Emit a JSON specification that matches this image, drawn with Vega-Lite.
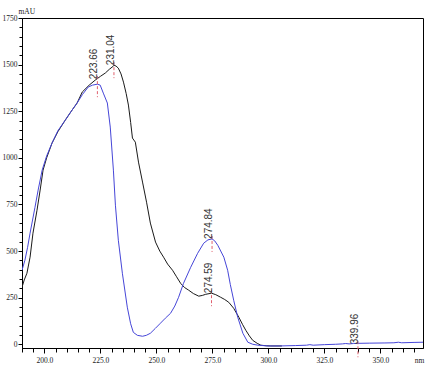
{
  "$schema": "https://vega.github.io/schema/vega-lite/v6.json",
  "width": 401,
  "height": 330,
  "autosize": {"type": "none"},
  "padding": {"left": 22, "top": 18, "right": 5, "bottom": 28},
  "background": "white",
  "config": {"view": {"stroke": "black", "strokeWidth": 1}},
  "datasets": {
    "black": [
      {"wl": 190.0, "v": 306}, {"wl": 191.0, "v": 345}, {"wl": 192.2, "v": 381}, {"wl": 193.6, "v": 467},
      {"wl": 194.9, "v": 596}, {"wl": 196.7, "v": 719}, {"wl": 198.1, "v": 827}, {"wl": 199.4, "v": 934},
      {"wl": 201.0, "v": 1000}, {"wl": 203.4, "v": 1079}, {"wl": 206.0, "v": 1140}, {"wl": 209.3, "v": 1202},
      {"wl": 212.0, "v": 1250}, {"wl": 214.6, "v": 1294}, {"wl": 216.9, "v": 1353}, {"wl": 220.0, "v": 1390},
      {"wl": 222.7, "v": 1417}, {"wl": 225.0, "v": 1437}, {"wl": 227.2, "v": 1455}, {"wl": 229.0, "v": 1475},
      {"wl": 230.8, "v": 1492}, {"wl": 231.04, "v": 1497}, {"wl": 232.0, "v": 1492}, {"wl": 233.0, "v": 1481},
      {"wl": 234.2, "v": 1450}, {"wl": 235.3, "v": 1406}, {"wl": 236.5, "v": 1345}, {"wl": 237.5, "v": 1283},
      {"wl": 238.5, "v": 1190}, {"wl": 239.3, "v": 1106}, {"wl": 240.6, "v": 1084}, {"wl": 242.0, "v": 977},
      {"wl": 243.8, "v": 870}, {"wl": 245.6, "v": 762}, {"wl": 247.3, "v": 650}, {"wl": 249.6, "v": 548},
      {"wl": 251.5, "v": 500}, {"wl": 253.2, "v": 467}, {"wl": 255.0, "v": 430}, {"wl": 257.2, "v": 397},
      {"wl": 259.0, "v": 362}, {"wl": 260.8, "v": 327}, {"wl": 262.5, "v": 305}, {"wl": 264.4, "v": 290},
      {"wl": 266.5, "v": 272}, {"wl": 268.9, "v": 258}, {"wl": 270.5, "v": 262}, {"wl": 272.0, "v": 268},
      {"wl": 274.59, "v": 274}, {"wl": 276.5, "v": 266}, {"wl": 278.7, "v": 252}, {"wl": 280.5, "v": 240},
      {"wl": 282.3, "v": 225}, {"wl": 284.5, "v": 193}, {"wl": 286.8, "v": 145}, {"wl": 288.5, "v": 105},
      {"wl": 289.9, "v": 75}, {"wl": 291.5, "v": 45}, {"wl": 293.0, "v": 21}, {"wl": 295.0, "v": 5},
      {"wl": 296.6, "v": -5}, {"wl": 299.0, "v": -8}, {"wl": 301.1, "v": -9}, {"wl": 306.0, "v": -9}
    ],
    "blue": [
      {"wl": 190.0, "v": 397}, {"wl": 191.3, "v": 451}, {"wl": 192.5, "v": 520}, {"wl": 193.6, "v": 596},
      {"wl": 195.8, "v": 735}, {"wl": 197.2, "v": 827}, {"wl": 199.0, "v": 934}, {"wl": 201.0, "v": 1010},
      {"wl": 203.4, "v": 1079}, {"wl": 206.0, "v": 1145}, {"wl": 209.3, "v": 1202}, {"wl": 212.0, "v": 1250},
      {"wl": 214.6, "v": 1294}, {"wl": 217.0, "v": 1340}, {"wl": 219.6, "v": 1380}, {"wl": 221.5, "v": 1390},
      {"wl": 223.66, "v": 1395}, {"wl": 224.9, "v": 1390}, {"wl": 226.3, "v": 1347}, {"wl": 228.1, "v": 1294},
      {"wl": 229.4, "v": 1165}, {"wl": 230.8, "v": 934}, {"wl": 231.7, "v": 746}, {"wl": 233.0, "v": 558},
      {"wl": 234.8, "v": 381}, {"wl": 237.0, "v": 199}, {"wl": 238.5, "v": 110}, {"wl": 239.7, "v": 64},
      {"wl": 241.5, "v": 48}, {"wl": 243.8, "v": 43}, {"wl": 245.5, "v": 48}, {"wl": 247.3, "v": 59},
      {"wl": 249.5, "v": 85}, {"wl": 251.8, "v": 113}, {"wl": 254.0, "v": 140}, {"wl": 256.3, "v": 166},
      {"wl": 258.2, "v": 205}, {"wl": 259.9, "v": 252}, {"wl": 262.1, "v": 327}, {"wl": 265.3, "v": 413},
      {"wl": 268.4, "v": 488}, {"wl": 271.1, "v": 542}, {"wl": 273.0, "v": 560}, {"wl": 274.84, "v": 565},
      {"wl": 276.0, "v": 555}, {"wl": 277.4, "v": 531}, {"wl": 280.1, "v": 467}, {"wl": 281.8, "v": 397},
      {"wl": 283.0, "v": 320}, {"wl": 284.5, "v": 236}, {"wl": 286.3, "v": 145}, {"wl": 288.6, "v": 59},
      {"wl": 290.8, "v": 11}, {"wl": 293.0, "v": 0}, {"wl": 295.3, "v": -5}, {"wl": 299.8, "v": -9},
      {"wl": 305.0, "v": -9}, {"wl": 312.0, "v": -7}, {"wl": 317.0, "v": -5}, {"wl": 318.5, "v": -2},
      {"wl": 320.0, "v": -5}, {"wl": 325.0, "v": -2}, {"wl": 330.0, "v": 0}, {"wl": 333.0, "v": 2},
      {"wl": 334.5, "v": 4}, {"wl": 336.0, "v": 2}, {"wl": 338.0, "v": 4}, {"wl": 340.0, "v": 5},
      {"wl": 345.0, "v": 6}, {"wl": 352.0, "v": 7}, {"wl": 356.0, "v": 8}, {"wl": 358.0, "v": 11},
      {"wl": 359.5, "v": 8}, {"wl": 365.0, "v": 10}, {"wl": 369.0, "v": 11}
    ],
    "peaks": [
      {"wl": 223.66, "v": 1422, "v2": 1395, "text": "223.66"},
      {"wl": 231.04, "v": 1497, "v2": 1497, "text": "231.04"},
      {"wl": 274.84, "v": 565, "v2": 565, "text": "274.84"},
      {"wl": 274.59, "v": 274, "v2": 274, "text": "274.59"},
      {"wl": 339.96, "v": 0, "v2": 0, "text": "339.96"}
    ]
  },
  "encoding": {
    "x": {
      "field": "wl", "type": "quantitative",
      "scale": {"domain": [190, 369], "nice": false, "zero": false},
      "axis": {
        "values": [190,195,200,205,210,215,220,225,230,235,240,245,250,255,260,265,270,275,280,285,290,295,300,305,310,315,320,325,330,335,340,345,350,355,360,365],
        "labelExpr": "datum.value % 25 === 0 ? format(datum.value, '.1f') : ''",
        "tickSize": {"condition": {"test": "datum.value % 25 === 0", "value": 5}, "value": 4},
        "grid": false, "domainColor": "black", "tickColor": "black",
        "labelFont": "Liberation Sans Narrow", "labelFontSize": 7.5, "labelColor": "#222",
        "labelPadding": 3, "labelOverlap": false, "labelFlush": false,
        "title": "nm", "titleFont": "Liberation Sans Narrow", "titleFontSize": 7.5, "titleFontWeight": "normal",
        "titleColor": "#222", "titleX": 397, "titleY": 8, "titleAlign": "center", "titleBaseline": "top"
      }
    },
    "y": {
      "field": "v", "type": "quantitative",
      "scale": {"domain": [-20, 1750], "nice": false, "zero": false},
      "axis": {
        "values": [0,50,100,150,200,250,300,350,400,450,500,550,600,650,700,750,800,850,900,950,1000,1050,1100,1150,1200,1250,1300,1350,1400,1450,1500,1550,1600,1650,1700,1750],
        "labelExpr": "datum.value % 250 === 0 ? format(datum.value, 'd') : ''",
        "tickSize": {"condition": {"test": "datum.value % 250 === 0", "value": 4}, "value": 3},
        "grid": false, "domainColor": "black", "tickColor": "black",
        "labelFont": "Liberation Sans Narrow", "labelFontSize": 7.5, "labelColor": "#222",
        "labelPadding": 1, "labelOverlap": false, "labelFlush": false,
        "title": "mAU", "titleFont": "Liberation Sans Narrow", "titleFontSize": 7.5, "titleFontWeight": "normal",
        "titleColor": "#222", "titleAngle": 0, "titleX": -4, "titleY": -3, "titleAlign": "left", "titleBaseline": "bottom"
      }
    }
  },
  "layer": [
    {"data": {"name": "black"}, "mark": {"type": "line", "color": "#1a1a1a", "strokeWidth": 1, "clip": true}},
    {"data": {"name": "blue"}, "mark": {"type": "line", "color": "#4646d8", "strokeWidth": 1, "clip": true}},
    {
      "data": {"name": "peaks"},
      "mark": {"type": "rule", "color": "#e0606e", "strokeWidth": 1, "strokeDash": [3, 2], "yOffset": -3, "y2Offset": 13},
      "encoding": {"y2": {"field": "v2"}}
    },
    {
      "data": {"name": "peaks"},
      "mark": {"type": "text", "angle": 270, "align": "left", "baseline": "middle", "dy": -3, "font": "Liberation Sans", "fontSize": 10, "color": "#333"},
      "encoding": {"text": {"field": "text"}}
    }
  ]
}
